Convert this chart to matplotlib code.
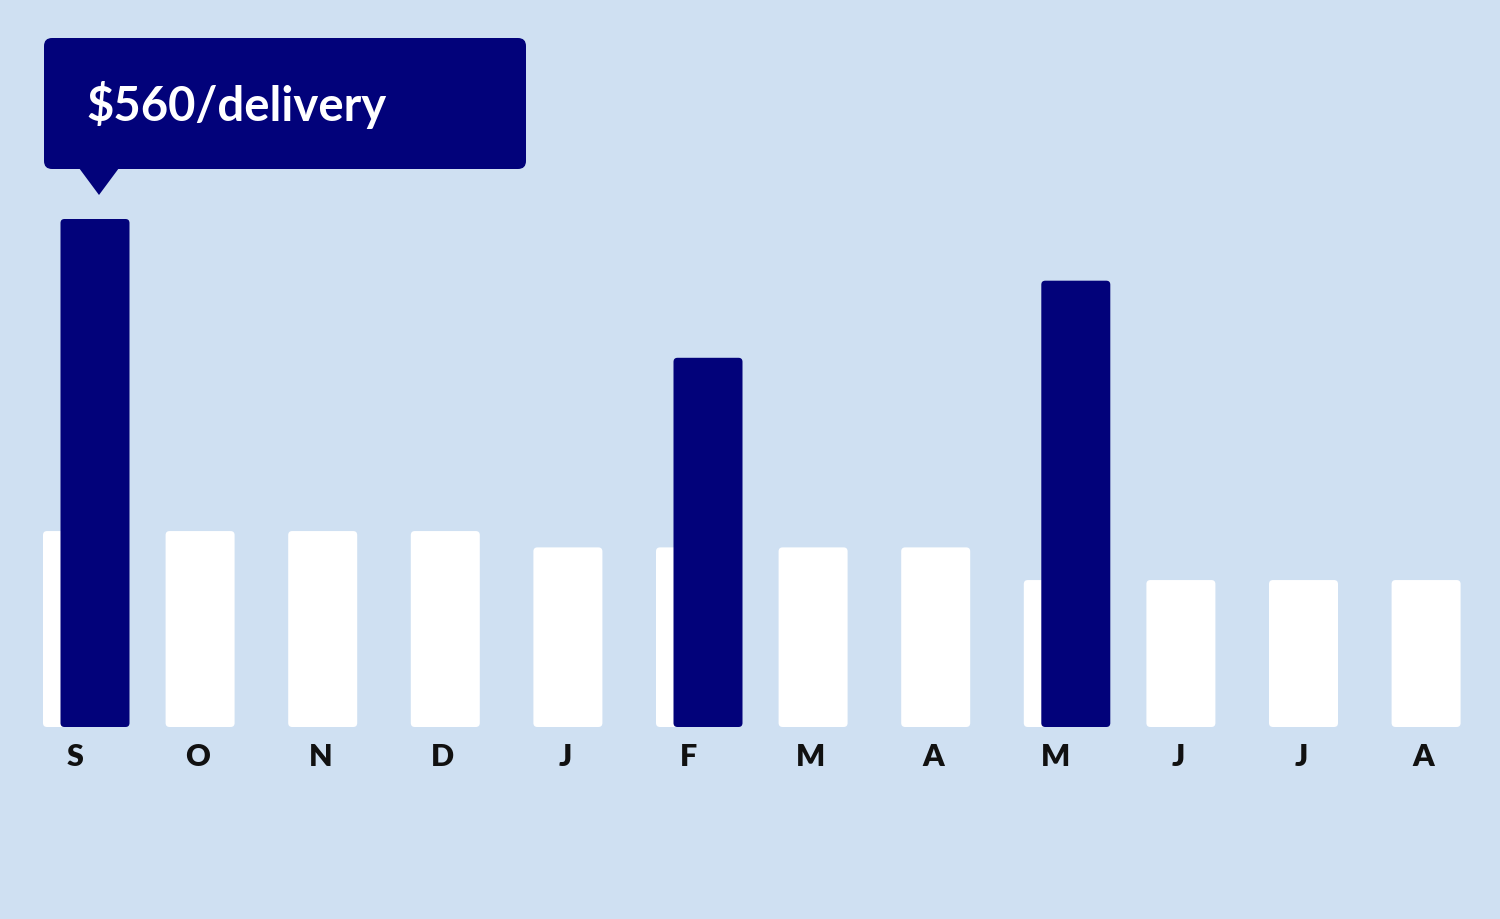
import numpy as np
import matplotlib.pyplot as plt
from matplotlib.patches import FancyBboxPatch, Polygon
from matplotlib.transforms import IdentityTransform

# data (values per delivery)
months = ['S', 'O', 'N', 'D', 'J', 'F', 'M', 'A', 'M', 'J', 'J', 'A']
base_cost = [216, 216, 216, 216, 198, 198, 198, 198, 162, 162, 162, 162]
peak_idx = [0, 5, 8]
peak_cost = [560, 407, 492]
callout = '$560/delivery'

bg = '#cfe0f2'
navy = '#02027a'

fig = plt.figure(figsize=(15, 9.2), dpi=100, facecolor=bg)
ax = fig.add_axes([0, 0, 1, 1])
ax.set_facecolor(bg)

# pixel -> data mapping
step = 122.6
ax.set_xlim(-77.5 / step, (1500 - 77.5) / step)
vpp = 560 / 508.0
ax.set_ylim(-192 * vpp, (920 - 192) * vpp)
ax.axis('off')

bw = 69 / step
off = 17.5 / step
aspect = vpp * step

def rbar(x, h, color):
    p = FancyBboxPatch((x - bw / 2, 0), bw, h,
                       boxstyle='round,pad=0,rounding_size=%f' % (4 / step),
                       mutation_aspect=aspect, fc=color, ec='none')
    ax.add_patch(p)

x = np.arange(len(months))
for i in x:
    rbar(i, base_cost[i], 'white')
for i, v in zip(peak_idx, peak_cost):
    rbar(i + off, v, navy)

for i, m in enumerate(months):
    ax.text(i - 2.5 / step, -29 * vpp, m, ha='center', va='center',
            fontsize=22, fontweight='heavy', family='Lato', color='#111111')

# callout above the first peak bar
tip = ax.transData.transform((peak_idx[0] + off + 4 / step, peak_cost[0] + 24 * vpp))
tx, ty = tip
box_b = ty + 26
box = FancyBboxPatch((44, box_b), 482, 131,
                     boxstyle='round,pad=0,rounding_size=8',
                     fc=navy, ec='none', transform=IdentityTransform())
fig.patches.append(box)
tri = Polygon([[tx - 20, box_b + 1], [tx + 20, box_b + 1], [tx, ty]],
              closed=True, fc=navy, ec='none', transform=IdentityTransform())
fig.patches.append(tri)
fig.text(86 / 1500, (box_b + 131 / 2) / 920, callout, color='white',
         fontsize=34, fontweight='bold', family='Lato', va='center', ha='left')

fig.savefig('out.png', dpi=100, facecolor=bg)
